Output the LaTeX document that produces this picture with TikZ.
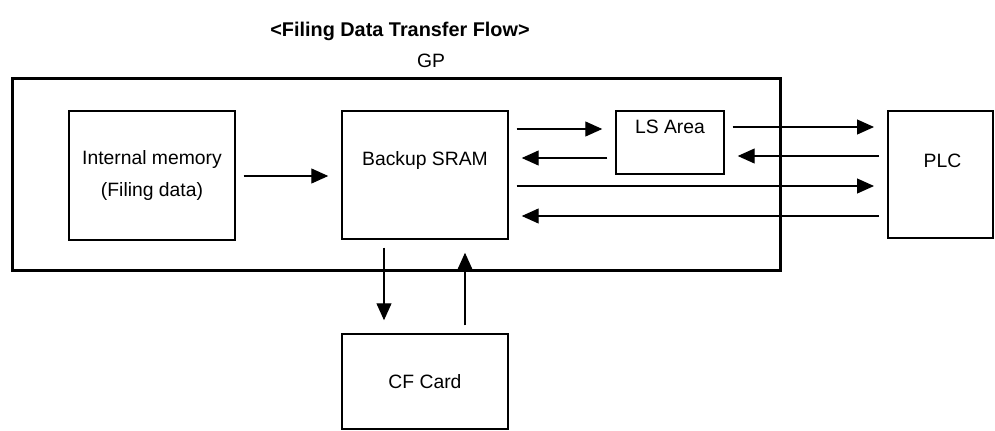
\documentclass[tikz,border=0pt]{standalone}
\usepackage{fontspec}
\setmainfont{Liberation Sans}
\usetikzlibrary{positioning, arrows.meta, calc}

\begin{document}
\begin{tikzpicture}[
    x=0.02cm, y=-0.02cm,
    every node/.style={font=\fontsize{11}{18}\selectfont},
    >={Triangle[length=0.34cm, width=0.3cm]},
    box/.style={draw, line width=0.85pt, inner sep=0pt},
    flow/.style={->, line width=0.65pt, shorten <=0.16cm, shorten >=0.26cm}
  ]

  \useasboundingbox (0,0) rectangle (995,430);

  % ============================================================
  %  Title and GP frame
  % ============================================================
  \node[font=\fontsize{11.3}{13}\selectfont\bfseries] (title) at (400,31)
    {<Filing Data Transfer Flow>};

  \node[box, line width=1.7pt, minimum width=15.38cm, minimum height=3.86cm]
    (gp) at (396.5,174.5) {};
  \node (gplabel) at (431,61) {GP};

  % ============================================================
  %  Blocks
  % ============================================================
  \node[box, align=center, minimum width=3.32cm, minimum height=2.58cm]
    (mem) at (152,175.5) {Internal memory\\(Filing data)};

  \node[box, minimum width=3.32cm, minimum height=2.56cm]
    (sram) at (425,175) {};
  \node (sramtxt) at ($(sram.north)+(0,50)$) {Backup SRAM};

  \node[box, minimum width=2.16cm, minimum height=1.26cm]
    (ls) at (670,142.5) {};
  \node (lstxt) at ($(ls.north)+(0,17)$) {LS Area};

  % PLC sits outside the GP frame
  \node[box, line width=1.15pt, minimum width=2.1cm, minimum height=2.54cm]
    (plc) at (940.5,174.5) {};
  \node (plctxt) at ($(plc.center)+(2,-14)$) {PLC};

  \node[box, minimum width=3.32cm, minimum height=1.9cm]
    (cf) at (425,381.5) {CF Card};

  % ============================================================
  %  Transfers
  % ============================================================
  \draw[flow] (mem.east |- 0,176) -- (sram.west |- 0,176);

  % SRAM <-> LS Area
  \draw[flow] (sram.east |- 0,129) -- (ls.west |- 0,129);
  \draw[flow] (ls.west |- 0,158) -- (sram.east |- 0,158);

  % LS Area <-> PLC
  \draw[flow] (ls.east |- 0,127) -- (plc.west |- 0,127);
  \draw[flow] (plc.west |- 0,156) -- (ls.east |- 0,156);

  % SRAM <-> PLC
  \draw[flow] (sram.east |- 0,186) -- (plc.west |- 0,186);
  \draw[flow] (plc.west |- 0,216) -- (sram.east |- 0,216);

  % SRAM <-> CF Card
  \draw[flow] (sram.south -| 384,0) -- (cf.north -| 384,0);
  \draw[flow] (cf.north -| 465,0) -- (sram.south -| 465,0);

\end{tikzpicture}
\end{document}
